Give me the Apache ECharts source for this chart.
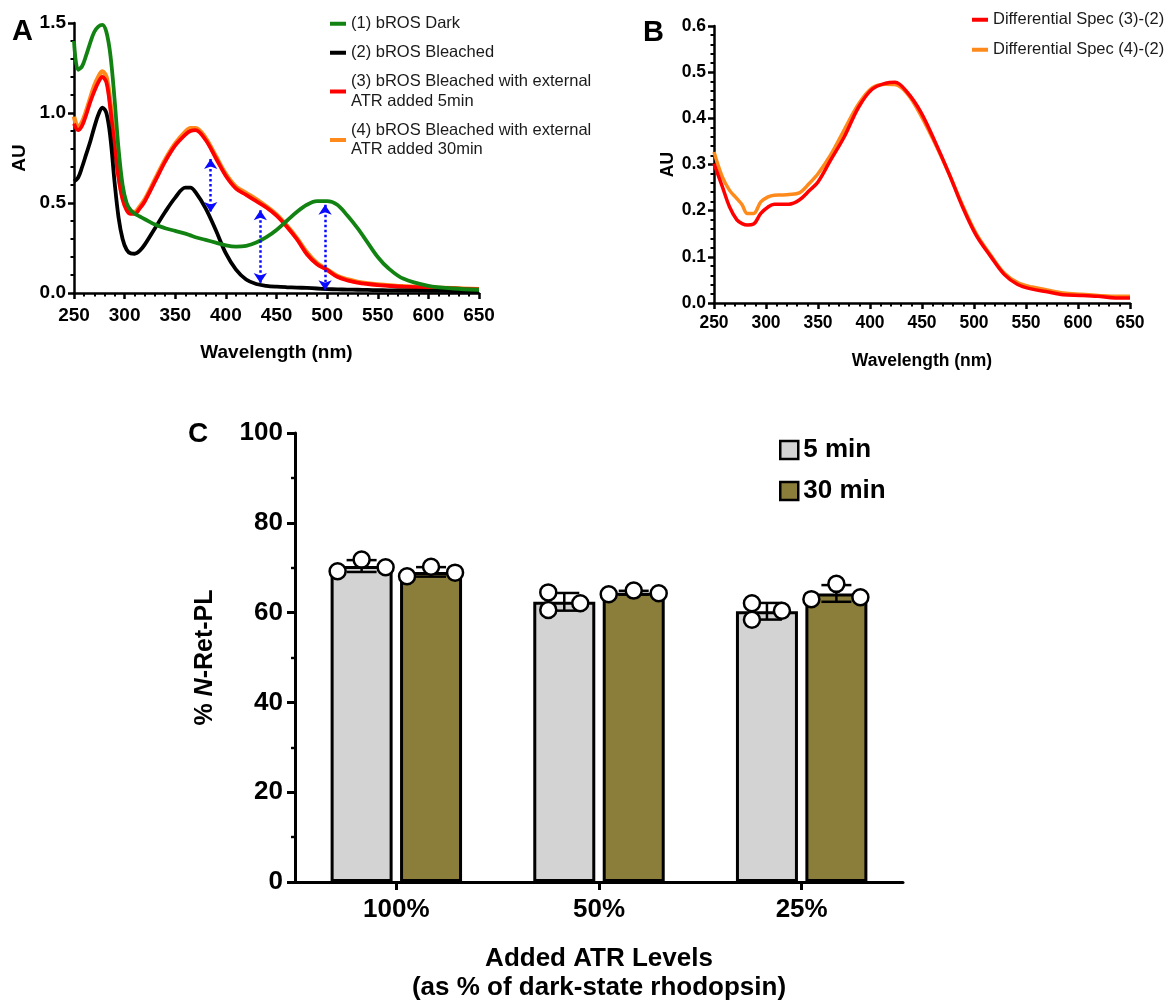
<!DOCTYPE html>
<html><head><meta charset="utf-8">
<script src="https://cdn.jsdelivr.net/npm/echarts@6/dist/echarts.min.js"></script>
<style>html,body{margin:0;padding:0;background:#fff}#c{width:1176px;height:1001px}</style>
</head><body><div id="c"></div>
<script>
// ---------- Panel A data ----------
const WL_A = [250,254,258,262,266,270,274,278,282,286,290,294,298,302,306,310,315,320,330,340,350,360,365,370,380,390,400,410,420,430,440,450,460,470,480,490,500,510,520,530,540,550,560,575,600,625,650];
const A_DARK = [1.40,1.24,1.26,1.32,1.39,1.45,1.48,1.49,1.45,1.32,1.08,0.80,0.60,0.50,0.46,0.44,0.425,0.41,0.38,0.36,0.345,0.33,0.32,0.31,0.295,0.28,0.265,0.258,0.262,0.28,0.31,0.35,0.40,0.45,0.49,0.51,0.51,0.49,0.43,0.36,0.28,0.20,0.14,0.08,0.04,0.025,0.018];
const A_BLEACHED = [0.62,0.64,0.70,0.77,0.84,0.92,0.99,1.03,1.00,0.86,0.62,0.42,0.30,0.24,0.22,0.218,0.235,0.27,0.36,0.45,0.53,0.585,0.585,0.56,0.47,0.35,0.22,0.13,0.075,0.05,0.04,0.035,0.032,0.03,0.028,0.025,0.022,0.02,0.019,0.018,0.017,0.016,0.015,0.014,0.012,0.011,0.01];
const A_ATR5 = [0.94,0.905,0.93,0.99,1.06,1.12,1.17,1.20,1.17,1.02,0.82,0.64,0.52,0.46,0.44,0.44,0.47,0.51,0.62,0.73,0.82,0.88,0.90,0.905,0.85,0.75,0.65,0.58,0.545,0.51,0.475,0.43,0.37,0.30,0.215,0.16,0.128,0.09,0.07,0.058,0.05,0.044,0.04,0.035,0.03,0.025,0.02];
const A_ATR30 = [0.98,0.92,0.95,1.01,1.08,1.15,1.20,1.23,1.20,1.05,0.84,0.66,0.53,0.47,0.45,0.45,0.48,0.52,0.63,0.74,0.83,0.895,0.915,0.915,0.86,0.76,0.66,0.59,0.555,0.52,0.48,0.435,0.375,0.305,0.225,0.165,0.13,0.095,0.075,0.062,0.053,0.047,0.043,0.037,0.031,0.026,0.021];
// blue double arrows: [wavelength, top AU, bottom AU]
const A_ARROWS = [[385,0.745,0.45],[434,0.46,0.055],[498,0.49,0.015]];
const A_NAMES = ['(1) bROS Dark','(2) bROS Bleached','(3) bROS Bleached with external\nATR added 5min','(4) bROS Bleached with external\nATR added 30min'];

// ---------- Panel B data ----------
const WL_B = [250,258,265,272,277,282,288,295,302,308,315,322,332,342,350,362,375,389,402,415,424,436,449,462,476,489,502,516,529,542,556,569,586,602,619,636,650];
const B_DIFF3 = [0.302,0.252,0.208,0.18,0.172,0.169,0.171,0.194,0.208,0.214,0.214,0.214,0.223,0.244,0.262,0.309,0.359,0.424,0.463,0.476,0.478,0.456,0.413,0.352,0.280,0.208,0.147,0.101,0.062,0.040,0.030,0.025,0.018,0.0165,0.0144,0.011,0.011];
const B_DIFF4 = [0.327,0.273,0.244,0.226,0.213,0.194,0.194,0.219,0.230,0.2335,0.234,0.235,0.2385,0.26,0.28,0.32,0.374,0.431,0.466,0.474,0.473,0.453,0.406,0.348,0.28,0.212,0.151,0.104,0.065,0.044,0.0345,0.029,0.0216,0.0187,0.0165,0.0144,0.0144];
const B_NAMES = ['Differential Spec (3)-(2)','Differential Spec (4)-(2)'];

// ---------- Panel C data ----------
const C_CATS = ['100%','50%','25%'];
const C_PTS_5 = [[69.2,71.8,70.1],[64.5,60.6,62.1],[62.1,58.4,60.4]];
const C_PTS_30 = [[68.1,70.2,68.9],[64.1,64.9,64.3],[63.0,66.4,63.4]];
const C_NAMES = ['5 min','30 min'];

// ---------- layout / style ----------
const FONT = "'Liberation Sans', Arial, Helvetica, sans-serif";
const BAR_W = 62, BAR_GAP = 0.12;
const BAR_OFF = BAR_W * (1 + BAR_GAP) / 2;
const JITTER_PX_5 = [[-24,0,24],[-16,-16,16],[-15,-15,15]];
const JITTER_PX_30 = [[-24,0,24],[-25,0,25],[-25,0,24]];

const mean = a => a.reduce((s,v)=>s+v,0)/a.length;
const sd = a => { const m = mean(a); return Math.sqrt(a.reduce((s,v)=>s+(v-m)*(v-m),0)/(a.length-1)); };
const zip = (xs, ys) => xs.map((x,i)=>[x, ys[i]]);

function axisStyle(fs, lw, tick, minor, margin, split) {
  return {
    axisLine: {show:true, onZero:false, lineStyle:{color:'#000', width:lw}},
    axisTick: {show:true, length:tick, lineStyle:{color:'#000', width:lw}},
    minorTick: {show: split>0, splitNumber: split||5, length:minor, lineStyle:{color:'#000', width:lw*0.8}},
    splitLine: {show:false},
    axisLabel: {color:'#000', fontWeight:'bold', fontSize:fs, fontFamily:FONT, margin:margin},
    nameMoveOverlap: false
  };
}
const nameStyle = fs => ({color:'#000', fontWeight:'bold', fontSize:fs, fontFamily:FONT});

function lineSeries(name, xi, data, color, width, z) {
  return {type:'line', name, xAxisIndex:xi, yAxisIndex:xi, data, showSymbol:false, symbol:'none',
    smooth:0.35, z, lineStyle:{color, width}, itemStyle:{color}, silent:true};
}

function errSeries(pts, sign, jit) {
  return {
    type:'custom', xAxisIndex:2, yAxisIndex:2, z:10, silent:true,
    data: pts.map((p,i)=>[i, mean(p), sd(p), p[0], p[1], p[2]]),
    encode:{x:0, y:1},
    renderItem: (params, api) => {
      const i = api.value(0), m = api.value(1), s = api.value(2);
      const x = api.coord([i, m])[0] + sign*BAR_OFF;
      const yt = api.coord([i, m+s])[1], yb = api.coord([i, m-s])[1];
      const st = {stroke:'#000', lineWidth:2.5};
      const ch = [
        {type:'line', shape:{x1:x,y1:yt,x2:x,y2:yb}, style:st},
        {type:'line', shape:{x1:x-15,y1:yt,x2:x+15,y2:yt}, style:st},
        {type:'line', shape:{x1:x-15,y1:yb,x2:x+15,y2:yb}, style:st}
      ];
      for (let k=0;k<3;k++) {
        const y = api.coord([i, api.value(3+k)])[1];
        ch.push({type:'circle', shape:{cx:x+jit[i][k], cy:y, r:8}, style:{fill:'#fff', stroke:'#000', lineWidth:2.5}});
      }
      return {type:'group', children:ch};
    }
  };
}

const chart = echarts.init(document.getElementById('c'), null, {renderer:'canvas'});
const option = {
  animation:false,
  backgroundColor:'#fff',
  textStyle:{fontFamily:FONT},
  title:[
    {text:'A', left:12, top:17, padding:0, textStyle:{fontSize:29, fontWeight:'bold', color:'#000', fontFamily:FONT}},
    {text:'B', left:643, top:18, padding:0, textStyle:{fontSize:29, fontWeight:'bold', color:'#000', fontFamily:FONT}},
    {text:'C', left:188, top:420, padding:0, textStyle:{fontSize:28, fontWeight:'bold', color:'#000', fontFamily:FONT}}
  ],
  grid:[
    {left:74, top:23, width:405, height:270, outerBoundsMode:'none'},
    {left:714, top:26, width:416, height:277, outerBoundsMode:'none'},
    {left:295, top:433, width:608, height:449, outerBoundsMode:'none'}
  ],
  legend:[
    {data:A_NAMES, orient:'vertical', left:325, top:9, itemWidth:16, itemHeight:4, itemGap:9.5, itemTextGap:10, icon:'rect', selectedMode:false,
      textStyle:{fontSize:16.5, lineHeight:19.5, color:'#1a1a1a', fontFamily:FONT}},
    {data:B_NAMES, orient:'vertical', left:967, top:5, itemWidth:16, itemHeight:4, itemGap:10.5, itemTextGap:11, icon:'rect', selectedMode:false,
      textStyle:{fontSize:16.5, lineHeight:19.5, color:'#1a1a1a', fontFamily:FONT}},
    {data:C_NAMES, orient:'vertical', left:774, top:430, itemWidth:18, itemHeight:18, itemGap:11, itemTextGap:17, icon:'rect', selectedMode:false,
      itemStyle:{borderColor:'#000', borderWidth:2.5},
      textStyle:{fontSize:26, lineHeight:30, fontWeight:'bold', color:'#000', fontFamily:FONT}}
  ],
  xAxis:[
    Object.assign({gridIndex:0, type:'value', min:250, max:650, interval:50,
      name:'Wavelength (nm)', nameLocation:'middle', nameGap:50, nameTextStyle:nameStyle(19)}, axisStyle(19,2.5,6,3.5,13,5)),
    Object.assign({gridIndex:1, type:'value', min:250, max:650, interval:50,
      name:'Wavelength (nm)', nameLocation:'middle', nameGap:49, nameTextStyle:nameStyle(17.5)}, axisStyle(17.5,2.5,6,3.5,11,5)),
    Object.assign({gridIndex:2, type:'category', data:C_CATS,
      name:'Added ATR Levels\n(as % of dark-state rhodopsin)', nameLocation:'middle', nameGap:62,
      nameTextStyle:Object.assign(nameStyle(26), {lineHeight:29})}, axisStyle(26,3,8,4,15,0),
      {axisTick:{show:true, alignWithLabel:true, length:8, lineStyle:{color:'#000', width:3}}})
  ],
  yAxis:[
    Object.assign({gridIndex:0, type:'value', min:0, max:1.5, interval:0.5,
      name:'AU', nameLocation:'middle', nameGap:45, nameTextStyle:nameStyle(19)}, axisStyle(19,2.5,6,3.5,8,5),
      ),
    Object.assign({gridIndex:1, type:'value', min:0, max:0.6, interval:0.1,
      name:'AU', nameLocation:'middle', nameGap:37, nameTextStyle:nameStyle(17.5)}, axisStyle(17.5,2.5,6,3.5,8,5)),
    Object.assign({gridIndex:2, type:'value', min:0, max:100, interval:20,
      name:'{a|% }{b|N}{a|-Ret-PL}', nameLocation:'middle', nameGap:77,
      nameTextStyle:{color:'#000', rich:{a:{fontSize:25, fontWeight:'bold', fontFamily:FONT, color:'#000'}, b:{fontSize:25, fontWeight:'bold', fontStyle:'italic', fontFamily:FONT, color:'#000'}}}},
      axisStyle(26,3,8,4,12,2))
  ],
  series:[
    lineSeries(A_NAMES[3], 0, zip(WL_A, A_ATR30), '#ff8a1c', 4.5, 2),
    lineSeries(A_NAMES[2], 0, zip(WL_A, A_ATR5), '#ff0000', 3.8, 3),
    lineSeries(A_NAMES[1], 0, zip(WL_A, A_BLEACHED), '#000000', 3.8, 4),
    lineSeries(A_NAMES[0], 0, zip(WL_A, A_DARK), '#128312', 3.8, 5),
    {type:'lines', coordinateSystem:'cartesian2d', xAxisIndex:0, yAxisIndex:0, z:6, silent:true,
      symbol:['arrow','arrow'], symbolSize:10,
      lineStyle:{color:'#0a0aff', width:2.5, type:'dotted', opacity:1},
      data: A_ARROWS.map(a=>({coords:[[a[0],a[1]],[a[0],a[2]]]}))},
    lineSeries(B_NAMES[1], 1, zip(WL_B, B_DIFF4), '#ff8a1c', 3.5, 2),
    lineSeries(B_NAMES[0], 1, zip(WL_B, B_DIFF3), '#ff0000', 3.5, 3),
    {type:'bar', name:C_NAMES[0], xAxisIndex:2, yAxisIndex:2, data:C_PTS_5.map(mean), barWidth:BAR_W, barGap:(BAR_GAP*100)+'%',
      itemStyle:{color:'#d3d3d3', borderColor:'#000', borderWidth:3}, silent:true},
    {type:'bar', name:C_NAMES[1], xAxisIndex:2, yAxisIndex:2, data:C_PTS_30.map(mean), barWidth:BAR_W, barGap:(BAR_GAP*100)+'%',
      itemStyle:{color:'#8b7d3a', borderColor:'#000', borderWidth:3}, silent:true},
    errSeries(C_PTS_5, -1, JITTER_PX_5),
    errSeries(C_PTS_30, 1, JITTER_PX_30)
  ]
};
option.yAxis[0].axisLabel.formatter = v => v.toFixed(1);
option.yAxis[1].axisLabel.formatter = v => v.toFixed(1);
chart.setOption(option);
</script></body></html>
